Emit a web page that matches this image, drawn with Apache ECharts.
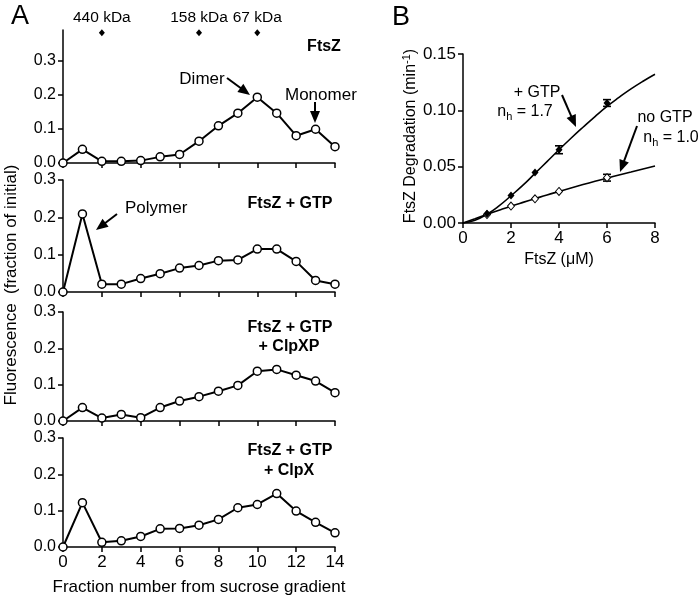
<!DOCTYPE html>
<html>
<head>
<meta charset="utf-8">
<script src="https://cdn.jsdelivr.net/npm/echarts@6/dist/echarts.min.js"></script>
<style>html,body{margin:0;padding:0;background:#fff}#c{width:700px;height:600px}</style>
</head>
<body>
<div id="c"></div>
<script>
// ---------- Panel A data ----------
const fractions = [0,1,2,3,4,5,6,7,8,9,10,11,12,13,14];
const ftszOnly      = [0, 0.040, 0.005, 0.005, 0.007, 0.018, 0.025, 0.064, 0.109, 0.146, 0.193, 0.146, 0.080, 0.099, 0.048];
const ftszGtp       = [0, 0.209, 0.021, 0.021, 0.036, 0.049, 0.064, 0.071, 0.084, 0.086, 0.115, 0.115, 0.082, 0.031, 0.021];
const ftszGtpClpXP  = [0, 0.037, 0.008, 0.018, 0.009, 0.037, 0.055, 0.067, 0.082, 0.098, 0.137, 0.142, 0.126, 0.110, 0.078];
const ftszGtpClpX   = [0, 0.122, 0.013, 0.017, 0.029, 0.050, 0.051, 0.060, 0.076, 0.108, 0.117, 0.147, 0.099, 0.068, 0.039];
const panelSeries = [ftszOnly, ftszGtp, ftszGtpClpXP, ftszGtpClpX];
const yTicksA = [0, 0.1, 0.2, 0.3];
const xTicksA = [0, 2, 4, 6, 8, 10, 12, 14];
const kdaFractions = [2, 7, 10];
const kdaLabels = ['440 kDa', '158 kDa', '67 kDa'];
const kdaMarkerLevel = 0.382;

// ---------- Panel B data ----------
const concB      = [1, 2, 3, 4, 6];
const rateGtp    = [0.0083, 0.0245, 0.0448, 0.0650, 0.1065];
const errGtp     = [0, 0, 0, 0.0035, 0.0030];
const rateNoGtp  = [0.0075, 0.0150, 0.0215, 0.0280, 0.0402];
const errNoGtp   = [0, 0, 0, 0, 0.0030];
const fitX       = [0, 0.5, 1, 1.5, 2, 2.5, 3, 3.5, 4, 4.5, 5, 5.5, 6, 6.5, 7, 7.5, 8];
const fitGtp     = [0, 0.0025, 0.0078, 0.0152, 0.0242, 0.0336, 0.0440, 0.0545, 0.0650, 0.0752, 0.0850, 0.0945, 0.1035, 0.1115, 0.1190, 0.1258, 0.1320];
const fitNoGtp   = [0, 0.0038, 0.0076, 0.0113, 0.0149, 0.0183, 0.0216, 0.0249, 0.0280, 0.0311, 0.0341, 0.0370, 0.0398, 0.0426, 0.0453, 0.0480, 0.0506];
const yTicksB = [0, 0.05, 0.10, 0.15];

const FONT = "'Liberation Sans', Arial, Helvetica, sans-serif";
const chart = echarts.init(document.getElementById('c'), null, {renderer: 'canvas'});

const gridsA = [
  {left: 63, top: 30, width: 272, height: 133},
  {left: 63, top: 180, width: 272, height: 112},
  {left: 63, top: 312, width: 272, height: 109},
  {left: 63, top: 438, width: 272, height: 109}
];
const gridB = {left: 463, top: 54, width: 192, height: 169};

const axisLine = {show: true, lineStyle: {color: '#000', width: 1.5}};
const axisTick = {show: true, inside: false, length: 5, lineStyle: {color: '#000', width: 1.5}};

const grids = gridsA.concat([gridB]);
const xAxes = [], yAxes = [], series = [];

gridsA.forEach((g, i) => {
  xAxes.push({
    type: 'value', gridIndex: i, min: 0, max: 14, interval: 2,
    axisLine, axisTick: Object.assign({}, axisTick, {customValues: xTicksA}),
    splitLine: {show: false},
    axisLabel: {show: i === 3, customValues: xTicksA, color: '#000', fontSize: 17, fontFamily: FONT, margin: 7}
  });
  yAxes.push({
    type: 'value', gridIndex: i, min: 0, max: i === 0 ? 0.39 : 0.3, interval: 0.1,
    axisLine, axisTick: Object.assign({}, axisTick, {customValues: yTicksA}),
    splitLine: {show: false},
    axisLabel: {customValues: yTicksA, color: '#000', fontSize: 16, fontFamily: FONT, margin: 7,
      formatter: v => v.toFixed(1)}
  });
  series.push({
    type: 'line', xAxisIndex: i, yAxisIndex: i, clip: false,
    data: fractions.map((f, k) => [f, panelSeries[i][k]]),
    symbol: 'circle', symbolSize: 8,
    itemStyle: {color: '#fff', borderColor: '#000', borderWidth: 1.5, opacity: 1},
    lineStyle: {color: '#000', width: 2},
    z: 3
  });
});

// kDa calibration markers
series.push({
  type: 'scatter', xAxisIndex: 0, yAxisIndex: 0, clip: false,
  data: kdaFractions.map((f) => [f, kdaMarkerLevel]),
  symbol: 'diamond', symbolSize: [6, 7],
  itemStyle: {color: '#000', opacity: 1},
  label: {show: true, position: 'top', distance: 4, color: '#000', fontSize: 15.5, fontFamily: FONT,
    formatter: p => kdaLabels[p.dataIndex]}
});

// Panel B axes
xAxes.push({
  type: 'value', gridIndex: 4, min: 0, max: 8, interval: 2,
  axisLine, axisTick, splitLine: {show: false},
  axisLabel: {color: '#000', fontSize: 17, fontFamily: FONT, margin: 7}
});
yAxes.push({
  type: 'value', gridIndex: 4, min: 0, max: 0.15, interval: 0.05,
  axisLine, axisTick: Object.assign({}, axisTick, {customValues: yTicksB}),
  splitLine: {show: false},
  axisLabel: {customValues: yTicksB, color: '#000', fontSize: 17, fontFamily: FONT, margin: 7, formatter: v => v.toFixed(2)}
});

series.push({
  type: 'line', xAxisIndex: 4, yAxisIndex: 4, smooth: true, showSymbol: false, symbol: 'none',
  data: fitX.map((x, k) => [x, fitGtp[k]]), lineStyle: {color: '#000', width: 1.6}, z: 2
});
series.push({
  type: 'line', xAxisIndex: 4, yAxisIndex: 4, smooth: true, showSymbol: false, symbol: 'none',
  data: fitX.map((x, k) => [x, fitNoGtp[k]]), lineStyle: {color: '#000', width: 1.6}, z: 2
});

function errData(xs, ys, es) {
  const out = [];
  xs.forEach((x, k) => { if (es[k] > 0) out.push([x, ys[k] - es[k], ys[k] + es[k]]); });
  return out;
}
series.push({
  type: 'custom', xAxisIndex: 4, yAxisIndex: 4, z: 3,
  data: errData(concB, rateGtp, errGtp).concat(errData(concB, rateNoGtp, errNoGtp)),
  encode: {x: 0, y: [1, 2]},
  renderItem: function (params, api) {
    const x = api.value(0);
    const p1 = api.coord([x, api.value(1)]);
    const p2 = api.coord([x, api.value(2)]);
    const w = 4;
    const st = {stroke: '#000', lineWidth: 1.6};
    return {type: 'group', children: [
      {type: 'line', shape: {x1: p1[0], y1: p1[1], x2: p2[0], y2: p2[1]}, style: st},
      {type: 'line', shape: {x1: p1[0] - w, y1: p1[1], x2: p1[0] + w, y2: p1[1]}, style: st},
      {type: 'line', shape: {x1: p2[0] - w, y1: p2[1], x2: p2[0] + w, y2: p2[1]}, style: st}
    ]};
  }
});
series.push({
  type: 'scatter', xAxisIndex: 4, yAxisIndex: 4, z: 4,
  data: concB.map((x, k) => [x, rateNoGtp[k]]),
  symbol: 'diamond', symbolSize: [7, 8],
  itemStyle: {color: '#fff', borderColor: '#000', borderWidth: 1, opacity: 1}
});
series.push({
  type: 'scatter', xAxisIndex: 4, yAxisIndex: 4, z: 5,
  data: concB.map((x, k) => [x, rateGtp[k]]),
  symbol: 'diamond', symbolSize: [7, 8],
  itemStyle: {color: '#000', opacity: 1}
});

// ---------- annotations ----------
function txt(t, x, y, size, opts) {
  opts = opts || {};
  return {type: 'text', x: x, y: y, rotation: opts.rotation || 0, z: 100,
    style: Object.assign({text: t, fill: '#000', fontSize: size, fontFamily: FONT,
      fontWeight: opts.bold ? 'bold' : 'normal', align: opts.align || 'center', verticalAlign: 'middle'},
      opts.rich ? {rich: opts.rich} : {})};
}
function arrow(x1, y1, x2, y2) {
  const dx = x2 - x1, dy = y2 - y1, L = Math.sqrt(dx * dx + dy * dy);
  const ux = dx / L, uy = dy / L, hl = 12, hw = 5;
  const bx = x2 - ux * hl, by = y2 - uy * hl;
  return {type: 'group', z: 100, children: [
    {type: 'line', shape: {x1: x1, y1: y1, x2: bx + ux * 2, y2: by + uy * 2}, style: {stroke: '#000', lineWidth: 2}},
    {type: 'polygon', shape: {points: [[x2, y2], [bx - uy * hw, by + ux * hw], [bx + uy * hw, by - ux * hw]]}, style: {fill: '#000'}}
  ]};
}
const subRich = {
  b: {fontSize: 16, fontFamily: FONT, fill: '#000', lineHeight: 20, verticalAlign: 'middle'},
  s: {fontSize: 11, fontFamily: FONT, fill: '#000', lineHeight: 20, verticalAlign: 'bottom', padding: [6, 0, 0, 0]}
};
const supRich = {
  b: {fontSize: 16, fontFamily: FONT, fill: '#000', lineHeight: 20, verticalAlign: 'middle'},
  s: {fontSize: 11, fontFamily: FONT, fill: '#000', lineHeight: 20, verticalAlign: 'top', padding: [0, 0, 6, 0]}
};

const graphic = [
  txt('A', 11, 17, 27, {align: 'left'}),
  txt('B', 392, 18, 27, {align: 'left'}),
  txt('FtsZ', 324, 47, 16, {bold: true}),
  txt('Dimer', 202, 79, 17),
  arrow(227, 78, 250, 95),
  txt('Monomer', 285, 95, 17, {align: 'left'}),
  arrow(315, 102, 315, 123),
  txt('Polymer', 125, 208, 17, {align: 'left'}),
  arrow(117, 214, 96, 230),
  txt('FtsZ + GTP', 290, 204, 16, {bold: true}),
  txt('FtsZ + GTP', 290, 328, 16, {bold: true}),
  txt('+ ClpXP', 289, 347, 16, {bold: true}),
  txt('FtsZ + GTP', 290, 451, 16, {bold: true}),
  txt('+ ClpX', 289, 471, 16, {bold: true}),
  txt('Fluorescence  (fraction of initial)', 11, 285, 17, {rotation: Math.PI / 2}),
  txt('Fraction number from sucrose gradient', 199, 587, 17),
  // Panel B
  txt('{b|FtsZ Degradation (min}{s|-1}{b|)}', 411, 136, 16, {rotation: Math.PI / 2, rich: supRich}),
  txt('FtsZ (\u03bcM)', 559, 260, 16),
  txt('+ GTP', 537, 93, 16),
  txt('{b|n}{s|h}{b| = 1.7}', 525, 112, 16, {rich: subRich}),
  arrow(562, 95, 576, 127),
  txt('no GTP', 665, 118, 16),
  txt('{b|n}{s|h}{b| = 1.0}', 671, 138, 16, {rich: subRich}),
  arrow(637, 126, 620, 172)
];

chart.setOption({
  animation: false,
  backgroundColor: '#fff',
  textStyle: {fontFamily: FONT},
  grid: grids,
  xAxis: xAxes,
  yAxis: yAxes,
  series: series,
  graphic: graphic
});
</script>
</body>
</html>
